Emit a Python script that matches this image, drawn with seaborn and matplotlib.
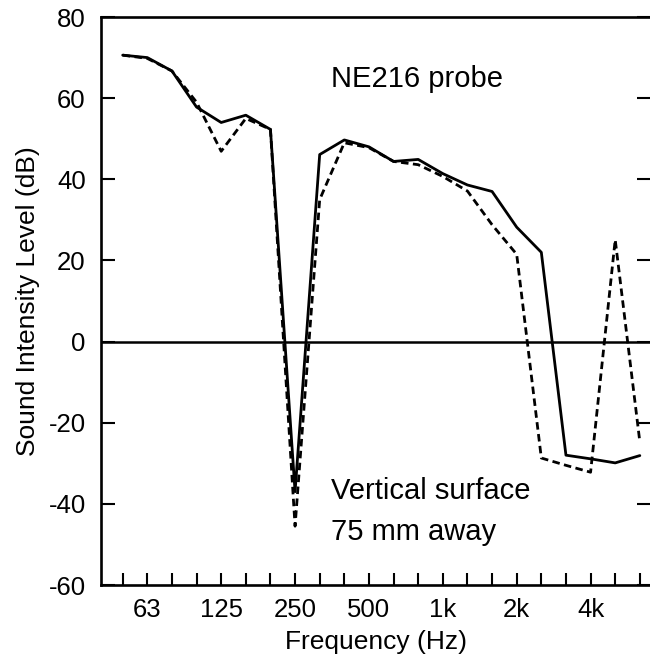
import numpy as np
import pandas as pd
import matplotlib
matplotlib.use("Agg")
import matplotlib.pyplot as plt
import seaborn as sns

# third-octave band centres (Hz) and the labels shown under the axis
bands = ['50', '63', '80', '100', '125', '160', '200', '250', '315', '400', '500',
         '630', '800', '1k', '1.25k', '1.6k', '2k', '2.5k', '3.15k', '4k', '5k', '6.3k']
shown_labels = ['63', '125', '250', '500', '1k', '2k', '4k']

# sound intensity level (dB)
solid_level = [70.6, 70.0, 66.7, 57.8, 54.0, 55.8, 52.3, -37.0, 46.1, 49.7, 48.0,
               44.4, 44.9, 41.4, 38.6, 37.0, 28.2, 22.0, -28.0, -28.9, -29.9, -28.1]
dashed_level = [70.6, 69.8, 66.7, 59.0, 46.9, 55.0, 52.3, -45.5, 35.0, 49.0, 47.8,
                44.4, 43.6, 40.7, 37.1, 28.8, 21.5, -28.7, -30.5, -32.2, 25.1, -24.7]

y_ticks = [-60, -40, -20, 0, 20, 40, 60, 80]

sns.set_style("ticks")
plt.rcParams['font.family'] = ['Liberation Sans', 'DejaVu Sans']
plt.rcParams['text.color'] = 'black'
plt.rcParams['axes.labelcolor'] = 'black'

df = pd.DataFrame({'pos': np.arange(len(bands)), 'band': bands,
                   'solid': solid_level, 'dashed': dashed_level})

fig = plt.figure(figsize=(6.5, 6.62), dpi=100)
ax = fig.add_axes([0.1554, 0.1163, 0.846, 0.858])

sns.lineplot(data=df, x='pos', y='solid', color='black', linewidth=2.0, ax=ax)
sns.lineplot(data=df, x='pos', y='dashed', color='black', linewidth=2.0,
             linestyle=(0, (2.7, 1.6)), ax=ax)
ax.axhline(0, color='black', linewidth=1.8)

ax.set_xlim(-0.88, 21.45)
ax.set_ylim(-60, 80)
ax.set_xticks(df['pos'])
ax.set_xticklabels([b if b in shown_labels else '' for b in bands])
ax.set_yticks(y_ticks)
ax.set_yticklabels([str(v) for v in y_ticks])

ax.tick_params(axis='x', direction='in', length=8.5, width=1.5, top=False,
               labelsize=18.5, pad=9, colors='black')
ax.tick_params(axis='y', direction='in', length=10, width=1.5, right=True,
               labelsize=18.5, pad=11, colors='black')
for sp in ax.spines.values():
    sp.set_linewidth(1.9)
    sp.set_color('black')

ax.set_xlabel('Frequency (Hz)', fontsize=19, labelpad=6)
ax.set_ylabel('Sound Intensity Level (dB)', fontsize=19, labelpad=6)

ax.text(8.46, 64.8, 'NE216 probe', fontsize=21, va='center', ha='left')
ax.text(8.46, -36.8, 'Vertical surface', fontsize=21, va='center', ha='left')
ax.text(8.46, -46.9, '75 mm away', fontsize=21, va='center', ha='left')

fig.savefig('out.png', dpi=100)
